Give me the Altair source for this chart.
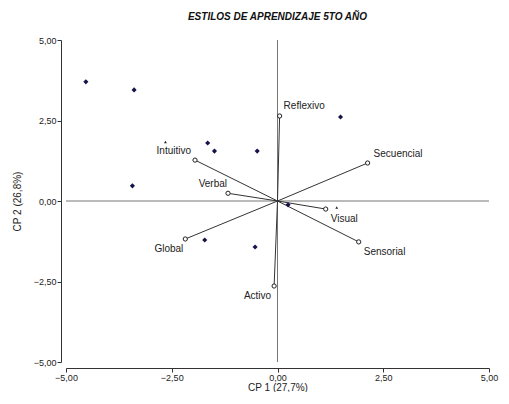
import altair as alt
import pandas as pd

# Observations (scores)
obs_x = [-4.53, -3.39, -3.43, -1.65, -1.49, -0.48, 1.49, -1.72, -0.53, 0.25]
obs_y = [3.70, 3.45, 0.47, 1.80, 1.55, 1.55, 2.61, -1.21, -1.43, -0.12]

# small extra marks
tri_x = [-2.65, 1.40]
tri_y = [1.83, -0.20]

# Variable vectors (loadings)
var_names = ["Reflexivo", "Secuencial", "Visual", "Sensorial", "Intuitivo", "Verbal", "Global", "Activo"]
var_x = [0.05, 2.13, 1.14, 1.92, -1.95, -1.17, -2.18, -0.08]
var_y = [2.64, 1.18, -0.25, -1.27, 1.27, 0.24, -1.18, -2.64]

ticks = [-5, -2.5, 0, 2.5, 5]

obs = pd.DataFrame({"x": obs_x, "y": obs_y})
tri = pd.DataFrame({"x": tri_x, "y": tri_y})
vec = pd.DataFrame({"name": var_names, "x": var_x, "y": var_y, "x0": 0.0, "y0": 0.0})

label_fmt = "replace(format(datum.value, '.2f'), '.', ',')"
font = "Liberation Sans"

xs = alt.Scale(domain=[-5, 5], nice=False, zero=False)
ys = alt.Scale(domain=[-5, 5], nice=False, zero=False)

xax = alt.Axis(values=ticks, labelExpr=label_fmt, title="CP 1 (27,7%)", grid=False,
               offset=6, tickSize=4, domainColor="#333", tickColor="#333", labelFlush=False,
               labelFontSize=9, labelColor="#222", titleFontSize=10, titleFontWeight="normal",
               titleColor="#222", labelFont=font, titleFont=font, titlePadding=0, labelPadding=1)
yax = alt.Axis(values=ticks, labelExpr=label_fmt, title="CP 2 (26,8%)", grid=False,
               offset=5, tickSize=4, domainColor="#333", tickColor="#333", labelFlush=False,
               labelFontSize=9, labelColor="#222", titleFontSize=10, titleFontWeight="normal",
               titleColor="#222", labelFont=font, titleFont=font, titlePadding=11, labelPadding=1)

base_axes = alt.Chart(obs).mark_point(opacity=0).encode(
    x=alt.X("x:Q", scale=xs, axis=xax),
    y=alt.Y("y:Q", scale=ys, axis=yax),
)

zero_df = pd.DataFrame({"v": [0.0]})
vline = alt.Chart(zero_df).mark_rule(color="#777", strokeWidth=1).encode(
    x=alt.X("v:Q", scale=xs))
hline = alt.Chart(zero_df).mark_rule(color="#777", strokeWidth=1).encode(
    y=alt.Y("v:Q", scale=ys))

vec_lines = alt.Chart(vec).mark_rule(color="#333", strokeWidth=1).encode(
    x=alt.X("x0:Q", scale=xs), y=alt.Y("y0:Q", scale=ys),
    x2="x:Q", y2="y:Q")

vec_pts = alt.Chart(vec).mark_point(shape="circle", filled=True, fill="white", stroke="#222",
                                    strokeWidth=1, size=18, opacity=1).encode(
    x=alt.X("x:Q", scale=xs), y=alt.Y("y:Q", scale=ys))

obs_pts = alt.Chart(obs).mark_point(shape="diamond", filled=True, color="#14144a",
                                    size=26, opacity=1).encode(
    x=alt.X("x:Q", scale=xs), y=alt.Y("y:Q", scale=ys))

tri_pts = alt.Chart(tri).mark_point(shape="triangle-up", filled=True, color="#222",
                                    size=8, opacity=1).encode(
    x=alt.X("x:Q", scale=xs), y=alt.Y("y:Q", scale=ys))

label_style = {
    "Reflexivo": ("left", 4, -10),
    "Secuencial": ("left", 6, -9),
    "Visual": ("left", 5, 10),
    "Sensorial": ("left", 5, 10),
    "Intuitivo": ("right", -4, -9),
    "Verbal": ("right", -1, -9),
    "Global": ("right", -2, 10),
    "Activo": ("right", -3, 10),
}

labels = []
for name in var_names:
    al, dx, dy = label_style[name]
    labels.append(
        alt.Chart(vec).transform_filter(alt.datum.name == name).mark_text(
            align=al, baseline="middle", dx=dx, dy=dy, fontSize=10, font=font, color="#222"
        ).encode(x=alt.X("x:Q", scale=xs), y=alt.Y("y:Q", scale=ys), text="name:N")
    )

chart = alt.layer(base_axes, vline, hline, vec_lines, vec_pts, obs_pts, tri_pts, *labels).properties(
    width=423, height=322,
    title=alt.TitleParams("ESTILOS DE APRENDIZAJE 5TO AÑO", fontSize=10, fontWeight="bold",
                          fontStyle="italic", font=font, color="#111", anchor="middle", offset=14),
    autosize=alt.AutoSizeParams(type="none"),
    padding={"left": 58, "top": 32, "right": 12, "bottom": 30},
).configure_view(stroke=None)

chart.save("out.html", embed_options={"renderer": "svg", "actions": False})
